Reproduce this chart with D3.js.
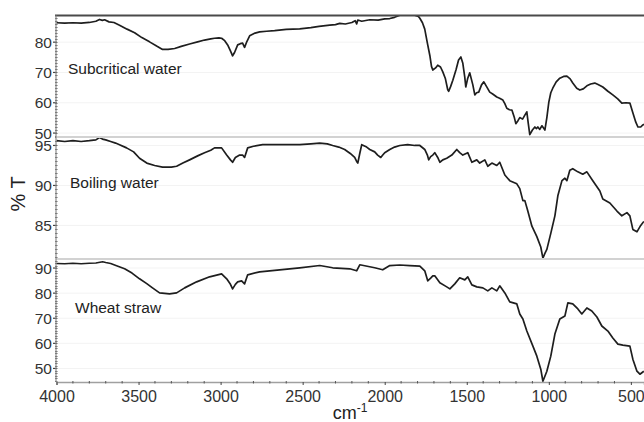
<!DOCTYPE html>
<html>
<head>
<meta charset="utf-8">
<script src="https://cdn.jsdelivr.net/npm/d3@7"></script>
<style>
  html, body { margin: 0; padding: 0; background: #fff; }
  svg { display: block; }
  text { font-family: "Liberation Sans", Arial, sans-serif; fill: #222; }
</style>
</head>
<body>
<svg id="chart" width="644" height="422"></svg>
<script>
// ---------- DATA ----------
const panelNames = ["Subcritical water", "Boiling water", "Wheat straw"];
const xTicks = [4000, 3500, 3000, 2500, 2000, 1500, 1000, 500];
const yTicksSub = [50, 60, 70, 80];
const yTicksBoil = [85, 90, 95];
const yTicksWheat = [50, 60, 70, 80, 90];

const subWn = [4000,3950,3900,3850,3800,3760,3738,3720,3707,3680,3650,3616,3570,3524,3480,3433,3390,3354,3320,3280,3240,3189,3140,3098,3060,3037,3010,2994,2975,2957,2940,2927,2915,2896,2880,2866,2854,2840,2823,2790,2762,2720,2671,2600,2518,2450,2400,2335,2300,2274,2240,2200,2180,2171,2164,2140,2091,2040,2000,1969,1940,1908,1860,1817,1795,1786,1770,1756,1740,1725,1715,1707,1690,1677,1660,1646,1630,1616,1610,1598,1585,1565,1550,1536,1524,1512,1506,1495,1482,1470,1463,1451,1440,1427,1410,1396,1380,1360,1340,1317,1300,1280,1268,1256,1240,1225,1210,1201,1188,1177,1160,1146,1134,1125,1116,1100,1085,1075,1067,1055,1042,1030,1024,1012,1000,988,976,955,933,910,890,870,854,830,811,790,768,745,720,700,671,640,610,580,555,530,506,488,470,457,440,427,420];
const subT = [86.4,86.3,86.4,86.3,86.5,86.9,87.5,87.2,87.4,86.7,86.5,85.6,84.3,83.1,81.5,80.1,78.7,77.6,77.6,77.9,78.6,79.4,80.1,80.7,81.1,81.3,81.4,81.3,80.5,79.1,77.1,75.5,76.6,79.1,79.5,79.7,78.3,80.2,82.1,83.0,83.4,83.6,83.8,84.2,84.4,84.8,85.2,85.6,85.8,86.2,86.0,86.5,87.1,86.0,87.3,86.9,87.4,87.3,87.7,87.8,88.2,88.9,88.9,88.9,88.5,87.9,86.4,84.3,79.7,75.6,72.0,70.8,71.5,72.4,71.8,70.2,67.9,64.3,63.8,65.4,67.4,71.0,74.1,75.1,73.0,68.4,65.2,67.9,69.9,67.4,65.9,62.6,63.3,63.5,65.9,66.9,65.4,63.5,62.8,61.9,61.5,60.9,59.7,58.2,57.7,57.6,55.1,53.1,54.1,55.1,54.6,55.9,57.0,53.1,49.5,51.0,52.0,51.5,52.0,51.2,52.4,51.5,51.0,55.1,60.2,63.3,64.8,66.9,68.1,68.7,68.8,67.9,66.5,64.8,64.2,64.6,65.6,66.2,66.5,66.0,65.2,63.8,62.6,61.3,59.9,60.0,59.9,56.7,53.6,52.0,52.0,52.7,52.9];

const boilWn = [4000,3950,3900,3850,3800,3760,3738,3720,3700,3670,3640,3616,3573,3530,3494,3450,3402,3354,3300,3268,3230,3189,3140,3098,3060,3037,3010,2994,2963,2940,2927,2910,2884,2866,2854,2835,2800,2744,2640,2518,2450,2396,2350,2317,2280,2244,2210,2183,2171,2164,2152,2140,2110,2091,2061,2043,2024,2012,2000,1969,1940,1908,1860,1817,1786,1756,1740,1732,1720,1707,1695,1677,1664,1646,1622,1591,1561,1543,1524,1494,1469,1439,1421,1390,1372,1347,1317,1299,1268,1238,1195,1177,1158,1146,1128,1103,1073,1049,1036,1024,1012,988,963,945,920,902,890,872,854,823,793,768,732,689,671,628,585,555,524,506,488,463,440,421];
const boilT = [95.6,95.5,95.6,95.5,95.6,95.7,96.0,95.8,95.7,95.5,95.3,95.1,94.7,94.2,93.4,92.8,92.5,92.3,92.3,92.4,92.8,93.2,93.7,94.1,94.4,94.7,94.7,94.7,93.8,93.2,92.9,93.5,93.8,93.8,93.5,94.7,94.9,95.1,95.1,95.1,95.2,95.3,95.2,95.0,94.8,94.5,94.0,93.5,93.0,92.8,94.0,95.1,94.8,94.5,94.2,93.8,93.5,93.8,94.1,94.5,94.8,95.0,95.1,95.0,95.0,94.5,93.8,93.2,93.6,93.8,94.1,93.5,92.9,93.2,93.4,93.8,94.5,94.1,93.8,94.1,92.9,93.2,92.8,93.2,92.4,92.8,92.5,92.9,91.3,90.6,90.2,89.6,88.1,88.1,86.8,84.9,83.6,82.3,80.9,81.5,82.0,84.0,86.2,88.7,90.6,90.9,90.6,91.9,92.1,91.7,91.4,91.7,90.6,89.3,88.3,87.8,86.8,86.2,86.6,86.2,84.5,84.2,85.0,85.5];

const wheatWn = [4000,3950,3900,3850,3800,3760,3719,3700,3670,3634,3585,3540,3494,3450,3415,3372,3311,3268,3219,3146,3067,3018,2994,2963,2940,2927,2910,2896,2872,2854,2835,2762,2640,2518,2396,2317,2213,2171,2152,2061,2012,1969,1908,1847,1786,1756,1738,1720,1707,1695,1664,1622,1603,1573,1543,1512,1494,1469,1439,1402,1372,1347,1317,1299,1268,1238,1195,1177,1158,1134,1097,1073,1049,1036,1012,988,963,933,902,884,854,823,799,768,738,707,677,640,610,579,549,506,488,463,445,421];
const wheatT = [91.8,91.7,91.9,91.7,91.9,92.0,92.5,92.2,91.8,90.9,89.7,88.0,85.7,83.8,82.1,80.1,79.7,80.1,82.1,84.5,86.5,87.3,87.7,85.7,83.5,81.7,83.5,84.5,84.9,83.7,87.3,88.5,89.3,90.1,91.0,90.1,89.7,88.9,91.3,90.1,89.3,91.0,91.2,91.0,90.8,88.9,84.9,86.0,86.9,86.9,84.1,82.5,81.7,83.7,86.1,85.3,86.5,83.3,82.5,82.1,80.9,82.1,80.9,82.9,80.1,76.5,75.7,71.7,69.7,64.9,58.9,54.9,49.7,44.9,48.9,54.9,63.7,69.7,70.9,76.1,75.7,73.7,71.7,74.1,72.9,70.5,66.9,64.9,62.1,59.7,59.3,58.9,53.7,48.9,47.7,48.9];

// ---------- LAYOUT ----------
const svg = d3.select("#chart");
const L = 56, R = 644, TOP = 15.5, S1 = 137, S2 = 259, BOT = 382;

const x = d3.scaleLinear().domain([4000, 420]).range([L + 0.5, R]);

const panels = [
  { name: panelNames[0], wn: subWn, t: subT, domain: [48.7, 88.8], y0: S1, y1: TOP, ticks: yTicksSub, minor: 1, label: [68, 74] },
  { name: panelNames[1], wn: boilWn, t: boilT, domain: [80.8, 96.06], y0: S2, y1: S1, ticks: yTicksBoil, minor: 0.5, label: [70, 188] },
  { name: panelNames[2], wn: wheatWn, t: wheatT, domain: [44.6, 93.6], y0: BOT, y1: S2, ticks: yTicksWheat, minor: 1, label: [75, 313] }
];

const defs = svg.append("defs");

panels.forEach((p, i) => {
  const y = d3.scaleLinear().domain(p.domain).range([p.y0, p.y1]);
  const g = svg.append("g");

  // faint gridlines
  g.selectAll("line.grid").data(p.ticks).join("line")
    .attr("x1", L).attr("x2", R)
    .attr("y1", d => y(d)).attr("y2", d => y(d))
    .attr("stroke", "#f3f3f3").attr("stroke-width", 1);

  // y axis ticks / labels
  const minorVals = d3.range(Math.ceil(p.domain[0] / p.minor) * p.minor, p.domain[1], p.minor);
  g.selectAll("line.minor").data(minorVals).join("line")
    .attr("x1", L - 1).attr("x2", L + 1.5)
    .attr("y1", d => Math.round(y(d)) + 0.5).attr("y2", d => Math.round(y(d)) + 0.5)
    .attr("stroke", "#666").attr("stroke-width", 1);
  g.selectAll("line.major").data(p.ticks).join("line")
    .attr("x1", L - 3).attr("x2", L + 1)
    .attr("y1", d => y(d)).attr("y2", d => y(d))
    .attr("stroke", "#444").attr("stroke-width", 1.2);
  g.selectAll("text.tick").data(p.ticks).join("text")
    .attr("x", L - 4).attr("y", d => y(d)).attr("dy", "0.36em")
    .attr("text-anchor", "end").attr("font-size", 15.5).style("fill", "#333")
    .text(d => d);

  // clip
  defs.append("clipPath").attr("id", "clip" + i).append("rect")
    .attr("x", L).attr("y", p.y1).attr("width", R - L).attr("height", p.y0 - p.y1);

  const line = d3.line().x(d => x(d[0])).y(d => y(d[1]));
  const pts = p.wn.map((w, k) => [w, p.t[k]]);
  g.append("path").datum(pts)
    .attr("clip-path", `url(#clip${i})`)
    .attr("fill", "none").attr("stroke", "#1e1e1e").attr("stroke-width", 1.7)
    .attr("stroke-linejoin", "round")
    .attr("d", line);

  g.append("text").attr("x", p.label[0]).attr("y", p.label[1])
    .attr("font-size", 15.5).text(p.name);
});

// panel separators
svg.selectAll("line.sep").data([S1, S2]).join("line")
  .attr("x1", L).attr("x2", R).attr("y1", d => d).attr("y2", d => d)
  .attr("stroke", "#d2d2d2").attr("stroke-width", 2);

// top border
svg.append("line").attr("x1", L - 1).attr("x2", R).attr("y1", TOP).attr("y2", TOP)
  .attr("stroke", "#4a4a4a").attr("stroke-width", 2);

// left axis line
svg.append("line").attr("x1", L).attr("x2", L).attr("y1", TOP).attr("y2", BOT)
  .attr("stroke", "#8a8a8a").attr("stroke-width", 1.2);

// x axis
const xAxis = d3.axisBottom(x).tickValues(xTicks).tickSize(3).tickPadding(6).tickFormat(d3.format("d"));
const gx = svg.append("g").attr("transform", `translate(0,${BOT})`).call(xAxis);
gx.select(".domain").attr("stroke", "#a0a0a0").attr("stroke-width", 1.5);
gx.selectAll(".tick line").attr("stroke", "#444");
gx.selectAll(".tick text").attr("font-size", 16).style("fill", "#333")
  .attr("font-family", "Liberation Sans, Arial, sans-serif");
const xMinor = d3.range(500, 4001, 100).filter(v => v % 500 !== 0);
svg.append("g").selectAll("line").data(xMinor).join("line")
  .attr("x1", d => x(d)).attr("x2", d => x(d))
  .attr("y1", BOT - 1).attr("y2", BOT + 1.5)
  .attr("stroke", "#555").attr("stroke-width", 1);

// y axis title
svg.append("text").attr("transform", "translate(25,194) rotate(-90)")
  .attr("text-anchor", "middle").attr("font-size", 20).text("% T");

// x axis title
const xt = svg.append("text").attr("x", 350).attr("y", 419)
  .attr("text-anchor", "middle").attr("font-size", 18);
xt.append("tspan").text("cm");
xt.append("tspan").attr("dy", -7).attr("font-size", 12).text("-1");
</script>
</body>
</html>
